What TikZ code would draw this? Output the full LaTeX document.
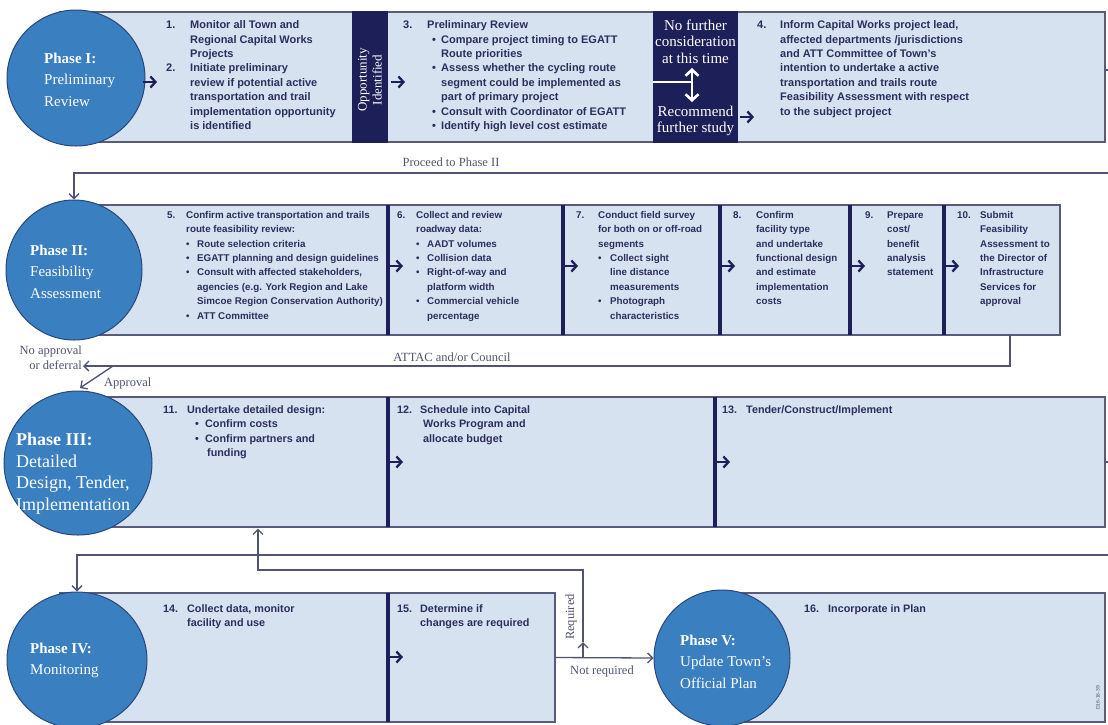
\documentclass[tikz,border=0pt]{standalone}
\usepackage{fontspec}
\setmainfont{Liberation Serif}
\setsansfont{Liberation Sans}
\usetikzlibrary{arrows.meta,shapes.geometric}
\definecolor{boxfill}{RGB}{214,226,240}
\definecolor{boxline}{RGB}{88,92,122}
\definecolor{navy}{RGB}{28,31,88}
\definecolor{phase}{RGB}{58,127,192}
\definecolor{phaseedge}{RGB}{40,72,125}
\definecolor{txt}{RGB}{44,46,92}
\definecolor{conn}{RGB}{80,84,112}
\newcommand\nmx[2]{\makebox[#1][l]{#2}}
\newcommand\ix[1]{\hspace*{#1}}
\newcommand\bux[1]{\makebox[#1][l]{\textbullet}}
\newcommand\Sa{\rule{0pt}{10pt}}
\newcommand\Sb{\rule{0pt}{9pt}}
\newcommand\Sp{\rule{0pt}{12pt}}
\newcommand\Sq{\rule{0pt}{14pt}}
\begin{document}
\begin{tikzpicture}[x=1pt,y=-1pt,
  box/.style={draw=boxline, fill=boxfill, line width=1.3pt, inner sep=0pt, rectangle},
  navybox/.style={fill=navy, inner sep=0pt, rectangle},
  phasec/.style={ellipse, fill=phase, draw=phaseedge, line width=1pt, minimum width=136pt, minimum height=136pt, inner sep=0pt},
  divline/.style={draw=navy, line width=3.6pt},
  tA/.style={anchor=north west, align=left, inner sep=0pt, text=txt, font=\sffamily\bfseries\fontsize{11}{14.4}\selectfont},
  tB/.style={anchor=north west, align=left, inner sep=0pt, text=txt, font=\sffamily\bfseries\fontsize{9.8}{14.4}\selectfont},
  tC/.style={anchor=north west, align=left, inner sep=0pt, text=txt, font=\sffamily\bfseries\fontsize{10.8}{14.5}\selectfont},
  phtxt/.style={anchor=north west, align=left, inner sep=0pt, text=white, font=\fontsize{15}{21.5}\selectfont},
  dk/.style={inner sep=0pt, text=white, align=center},
  chev/.style={draw=navy, line width=2.3pt, -{Straight Barb[length=5pt,width=11pt]}},
  cn/.style={draw=conn, line width=1.3pt},
  arr/.style={-{Straight Barb[length=5pt,width=10pt]}},
  lbl/.style={inner sep=0pt, text=conn, font=\fontsize{12.5}{15}\selectfont}
]
\useasboundingbox[fill=white] (0,0) rectangle (1108,724);

% ---------------- Row 1 : Phase I ----------------
\node[box, minimum width=1045pt, minimum height=130pt] (row1) at (582.5,77) {};
\node[navybox, minimum width=36pt, minimum height=131.3pt] (opp) at (370,77) {};
\node[navybox, minimum width=85pt, minimum height=131.3pt] (nfc) at (695.5,77) {};
\node[phasec, minimum width=138pt] (ph1) at (76,78) {};
\node[phtxt] (ph1t) at (44,51) {\Sp\textbf{Phase I:}\\Preliminary\\Review};
\node[dk, rotate=90, font=\fontsize{13}{15}\selectfont] (oppt) at (370,80) {Opportunity\\Identified};
\node[dk, font=\fontsize{15}{16.5}\selectfont] (nft) at (695.5,41.5) {No further\\consideration\\at this time};
\node[dk, font=\fontsize{15}{16.5}\selectfont] (rft) at (695.5,121) {Recommend\\further study};
\coordinate (wa1) at (692,68);
\coordinate (wa2) at (692,102);
\coordinate (wl) at (653,82);
\draw[white, line width=2pt] (wl) -- (wl -| wa1);
\draw[white, line width=2.6pt, {Straight Barb[length=6pt,width=13pt]}-{Straight Barb[length=6pt,width=13pt]}] (wa1) -- (wa2);

\node[tA] (b1) at (166,18.5) {\Sa\nmx{24pt}{1.}Monitor all Town and\\
\ix{24pt}Regional Capital Works\\
\ix{24pt}Projects\\
\nmx{24pt}{2.}Initiate preliminary\\
\ix{24pt}review if potential active\\
\ix{24pt}transportation and trail\\
\ix{24pt}implementation opportunity\\
\ix{24pt}is identified};
\node[tA] (b3) at (403,18.5) {\Sa\nmx{24pt}{3.}Preliminary Review\\
\ix{29pt}\bux{9pt}Compare project timing to EGATT\\
\ix{38pt}Route priorities\\
\ix{29pt}\bux{9pt}Assess whether the cycling route\\
\ix{38pt}segment could be implemented as\\
\ix{38pt}part of primary project\\
\ix{29pt}\bux{9pt}Consult with Coordinator of EGATT\\
\ix{29pt}\bux{9pt}Identify high level cost estimate};
\node[tA] (b4) at (757,18.5) {\Sa\nmx{23pt}{4.}Inform Capital Works project lead,\\
\ix{23pt}affected departments /jurisdictions\\
\ix{23pt}and ATT Committee of Town's\\
\ix{23pt}intention to undertake a active\\
\ix{23pt}transportation and trails route\\
\ix{23pt}Feasibility Assessment with respect\\
\ix{23pt}to the subject project};
\draw[chev] (143,82) -- (157,82);
\draw[chev] (391,82) -- (405,82);
\draw[chev] (740,117) -- (754,117);
\coordinate (t1) at (1108,70);
\draw[cn] (row1.east |- t1) -- (t1);

% connector to Phase II
\node[lbl] (lp2) at (451,162) {Proceed to Phase II};

% ---------------- Row 2 : Phase II ----------------
\node[box, minimum width=1000pt, minimum height=130pt] (row2) at (560,270) {};
\foreach \xx in {388,563,720,850,944} \draw[divline] (\xx,205) -- (\xx,335);
\node[phasec, minimum height=140pt] (ph2) at (74,270) {};
\node[phtxt] (ph2t) at (30,243) {\Sp\textbf{Phase II:}\\Feasibility\\Assessment};
\coordinate (e1) at (1108,173);
\draw[cn, arr] (e1) -- (ph2.north |- e1) -- (ph2.north);

\node[tB] (b5) at (167,209) {\Sb\nmx{19pt}{5.}Confirm active transportation and trails\\
\ix{19pt}route feasibility review:\\
\ix{19pt}\bux{11pt}Route selection criteria\\
\ix{19pt}\bux{11pt}EGATT planning and design guidelines\\
\ix{19pt}\bux{11pt}Consult with affected stakeholders,\\
\ix{30pt}agencies (e.g. York Region and Lake\\
\ix{30pt}Simcoe Region Conservation Authority)\\
\ix{19pt}\bux{11pt}ATT Committee};
\node[tB] (b6) at (397,209) {\Sb\nmx{19pt}{6.}Collect and review\\
\ix{19pt}roadway data:\\
\ix{19pt}\bux{11pt}AADT volumes\\
\ix{19pt}\bux{11pt}Collision data\\
\ix{19pt}\bux{11pt}Right-of-way and\\
\ix{30pt}platform width\\
\ix{19pt}\bux{11pt}Commercial vehicle\\
\ix{30pt}percentage};
\node[tB] (b7) at (576,209) {\Sb\nmx{22pt}{7.}Conduct field survey\\
\ix{22pt}for both on or off-road\\
\ix{22pt}segments\\
\ix{22pt}\bux{12pt}Collect sight\\
\ix{34pt}line distance\\
\ix{34pt}measurements\\
\ix{22pt}\bux{12pt}Photograph\\
\ix{34pt}characteristics};
\node[tB] (b8) at (733,209) {\Sb\nmx{23pt}{8.}Confirm\\
\ix{23pt}facility type\\
\ix{23pt}and undertake\\
\ix{23pt}functional design\\
\ix{23pt}and estimate\\
\ix{23pt}implementation\\
\ix{23pt}costs};
\node[tB] (b9) at (865,209) {\Sb\nmx{22pt}{9.}Prepare\\
\ix{22pt}cost/\\
\ix{22pt}benefit\\
\ix{22pt}analysis\\
\ix{22pt}statement};
\node[tB] (b10) at (957,209) {\Sb\nmx{23pt}{10.}Submit\\
\ix{23pt}Feasibility\\
\ix{23pt}Assessment to\\
\ix{23pt}the Director of\\
\ix{23pt}Infrastructure\\
\ix{23pt}Services for\\
\ix{23pt}approval};
\foreach \xx in {390,565,722,852,946} \draw[chev] (\xx,266) -- ++(13,0);

% ATTAC connector
\coordinate (a0) at (1010,335);
\coordinate (a1) at (1010,366);
\coordinate (a2) at (83,366);
\coordinate (ap0) at (113,366);
\coordinate (ap1) at (80,388);
\draw[cn, arr] (a0) -- (a1) -- (a2);
\draw[cn, arr] (ap0) -- (ap1);
\node[lbl] (latt) at (452,357) {ATTAC and/or Council};
\node[lbl, align=right, anchor=east] (lno) at (82,358) {No approval\\or deferral};
\node[lbl, anchor=west] (lapp) at (104,383) {Approval};

% ---------------- Row 3 : Phase III ----------------
\node[box, minimum width=1045pt, minimum height=130pt] (row3) at (582.5,462) {};
\foreach \xx in {388,715} \draw[divline] (\xx,397) -- (\xx,527);
\node[phasec, minimum width=148pt, minimum height=144pt] (ph3) at (78,463) {};
\node[phtxt, font=\fontsize{18}{21.5}\selectfont] (ph3t) at (16,431.5) {\Sq\textbf{Phase III:}\\Detailed\\Design, Tender,\\Implementation};
\node[tC] (b11) at (163,403) {\Sa\nmx{24pt}{11.}Undertake detailed design:\\
\ix{32pt}\bux{10pt}Confirm costs\\
\ix{32pt}\bux{10pt}Confirm partners and\\
\ix{44pt}funding};
\node[tC] (b12) at (397,403) {\Sa\nmx{23pt}{12.}Schedule into Capital\\
\ix{26pt}Works Program and\\
\ix{26pt}allocate budget};
\node[tC] (b13) at (722,403) {\Sa\nmx{24pt}{13.}Tender/Construct/Implement};
\draw[chev] (390,462) -- ++(13,0);
\draw[chev] (717,462) -- ++(13,0);
\coordinate (t3) at (1108,462);
\draw[cn] (row3.east) -- (t3);

% ---------------- Row 4 : Phase IV ----------------
\node[box, minimum width=495pt, minimum height=129pt] (row4) at (307.5,657.5) {};
\draw[divline] (388,593) -- (388,722);
\node[phasec, minimum width=140pt] (ph4) at (77,660) {};
\node[phtxt] (ph4t) at (30,641) {\Sp\textbf{Phase IV:}\\Monitoring};
\node[tC] (b14) at (163,602) {\Sa\nmx{24pt}{14.}Collect data, monitor\\
\ix{24pt}facility and use};
\node[tC] (b15) at (397,602) {\Sa\nmx{23pt}{15.}Determine if\\
\ix{23pt}changes are required};
\draw[chev] (390,657) -- ++(13,0);

\coordinate (e3) at (1108,555);
\draw[cn, arr] (e3) -- (ph4.north |- e3) -- (ph4.north);

% ---------------- Phase V ----------------
\node[box, minimum width=385pt, minimum height=129pt] (row5) at (912.5,657.5) {};
\node[phasec] (ph5) at (722,658) {};
\node[phtxt] (ph5t) at (680,633) {\Sp\textbf{Phase V:}\\Update Town's\\Official Plan};
\node[tC] (b16) at (804,602) {\Sa\nmx{24pt}{16.}Incorporate in Plan};
\node[rotate=90, inner sep=0pt, text=conn, font=\sffamily\fontsize{5}{6}\selectfont] (code) at (1098,698) {D16-16-39};

% Required / Not required
\coordinate (j0) at (583,657.5);
\coordinate (j1) at (583,642);
\coordinate (j2) at (583,570);
\coordinate (j3) at (258,570);
\coordinate (j4) at (258,528.5);
\draw[cn, arr] (row4.east) -- (ph5.west);
\draw[cn, arr] (j0) -- (j1);
\draw[cn, arr] (j1) -- (j2) -- (j3) -- (j4);
\node[lbl, rotate=90] (lreq) at (571,617) {Required};
\node[lbl] (lnreq) at (602,671) {Not required};
\end{tikzpicture}
\end{document}
